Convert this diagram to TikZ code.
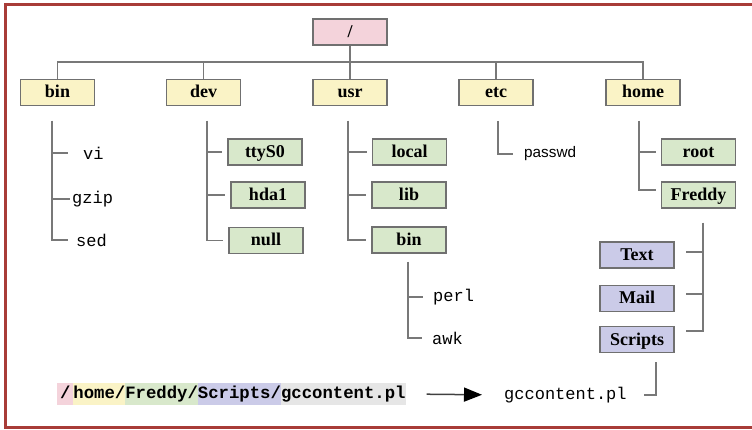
\documentclass[tikz,border=0pt]{standalone}
\usepackage{fontspec}
\setmainfont{Liberation Serif}
\setsansfont{Liberation Sans}
\setmonofont{Liberation Mono}
\usepackage{xcolor}
\usetikzlibrary{positioning}
\usetikzlibrary{arrows.meta}
\definecolor{framered}{HTML}{A83C38}
\definecolor{boxline}{HTML}{707070}
\definecolor{treeline}{HTML}{787878}
\definecolor{rootfill}{HTML}{F4D3DB}
\definecolor{dirfill}{HTML}{FAF3C6}
\definecolor{subfill}{HTML}{D8E8CB}
\definecolor{userfill}{HTML}{CBCBE8}
\definecolor{filefill}{HTML}{E6E6E6}

\begin{document}
\begin{tikzpicture}[x=1pt, y=-1pt,
        dir/.style={draw=boxline, line width=1.2pt, minimum width=74pt, minimum height=26pt, inner sep=0pt, text height=12pt, text depth=1pt, font=\fontsize{18}{18}\selectfont\bfseries},
        file/.style={anchor=west, inner sep=0pt, font=\fontsize{17}{17}\selectfont\ttfamily},
        seg/.style={inner xsep=0pt, inner ysep=2.75pt, outer sep=0pt, text height=12.5pt, text depth=4pt, font=\fontsize{17.3}{17}\selectfont\ttfamily\bfseries},
        tree/.style={draw=treeline, line width=1.2pt},
        tick/.style={tree, shorten >=5pt}]
            \useasboundingbox (0,0) rectangle (752,430);
            \draw[framered, line width=3pt] (5,5) rectangle (790,427.5);

            \node[dir, fill=rootfill] (root) at (350,32) {/};
            \node[dir, fill=dirfill] (bin) at (57.5,92.5) {bin};
            \node[dir, fill=dirfill] (dev) at (203.5,92.5) {dev};
            \node[dir, fill=dirfill] (usr) at (350,92.5) {usr};
            \node[dir, fill=dirfill] (etc) at (496,92.5) {etc};
            \node[dir, fill=dirfill] (home) at (643,92.5) {home};
            \coordinate (bus) at (350,62);
            \draw[tree] (root) -- (bus) (bin.north) |- (bus) -| (home.north);
            \draw[tree] (dev.north) -- (dev.north |- bus) (usr.north) -- (bus) (etc.north) -- (etc.north |- bus);

            \coordinate (binlist) at (52,121);
            \node[file] (vi) at (83,153) {vi};
            \node[file] (gzip) at (72,199) {gzip};
            \node[file] (sed) at (76,240) {sed};
            \foreach \n/\g in {vi/15, gzip/2, sed/8}
                \draw[tree, shorten >=\g pt] (binlist) |- (\n.west);

            \coordinate (devlist) at (207,121);
            \node[dir, fill=subfill] (ttys) at (265,152) {ttyS0};
            \node[dir, fill=subfill] (hda) at (268,195) {hda1};
            \node[dir, fill=subfill] (null) at (266,240.5) {null};
            \foreach \n in {ttys, hda, null}
                \draw[tick] (devlist) |- (\n.west);

            \coordinate (usrlist) at (348,121);
            \node[dir, fill=subfill] (local) at (409.5,152) {local};
            \node[dir, fill=subfill] (lib) at (409,195) {lib};
            \node[dir, fill=subfill] (ubin) at (409,240) {bin};
            \foreach \n in {local, lib, ubin}
                \draw[tick] (usrlist) |- (\n.west);

            \coordinate (ubinlist) at (408,262);
            \node[file] (perl) at (433,297) {perl};
            \node[file] (awk) at (432,338) {awk};
            \foreach \n in {perl, awk}
                \draw[tree, shorten >=10pt] (ubinlist) |- (\n.west);

            \coordinate (etclist) at (498,121);
            \node[file, font=\fontsize{15.3}{15}\selectfont\sffamily] (passwd) at (524,154) {passwd};
            \draw[tree, shorten >=11pt] (etclist) |- (passwd.west);

            \coordinate (homelist) at (639,121);
            \node[dir, fill=subfill] (hroot) at (698.5,152) {root};
            \node[dir, fill=subfill] (freddy) at (698.5,195) {Freddy};
            \draw[tick] (homelist) |- (hroot.west);
            \draw[tick] (homelist) |- ([yshift=5pt]freddy.west);

            \coordinate (freddylist) at (703,223);
            \node[dir, fill=userfill] (text) at (637,255) {Text};
            \node[dir, fill=userfill] (mail) at (637,298.5) {Mail};
            \node[dir, fill=userfill] (scripts) at (637,339.5) {Scripts};
            \foreach \n/\d in {text/3, mail/4.5, scripts/8.5}
                \draw[tree, shorten >=11pt] (freddylist) |- ([yshift=\d pt]\n.east);

            \coordinate (scriptslist) at (656,362);
            \node[file] (gcc) at (504,395) {gccontent.pl};
            \draw[tree, shorten >=17pt] (scriptslist) |- (gcc.east);

            \node[seg, fill=rootfill, inner xsep=3pt, anchor=west] (p1) at (57,394) {/};
            \node[seg, fill=dirfill, right=0pt of p1] (p2) {home/};
            \node[seg, fill=subfill, right=0pt of p2] (p3) {Freddy/};
            \node[seg, fill=userfill, right=0pt of p3] (p4) {Scripts/};
            \node[seg, fill=filefill, right=0pt of p4] (p5) {gccontent.pl\hspace{3pt}};
            \draw[-{Triangle[length=18pt, width=14pt, black]}, draw=black!75, line width=1.5pt, shorten <=21pt, shorten >=22pt] (p5.east) -- (gcc.west);
        \end{tikzpicture}
\end{document}
